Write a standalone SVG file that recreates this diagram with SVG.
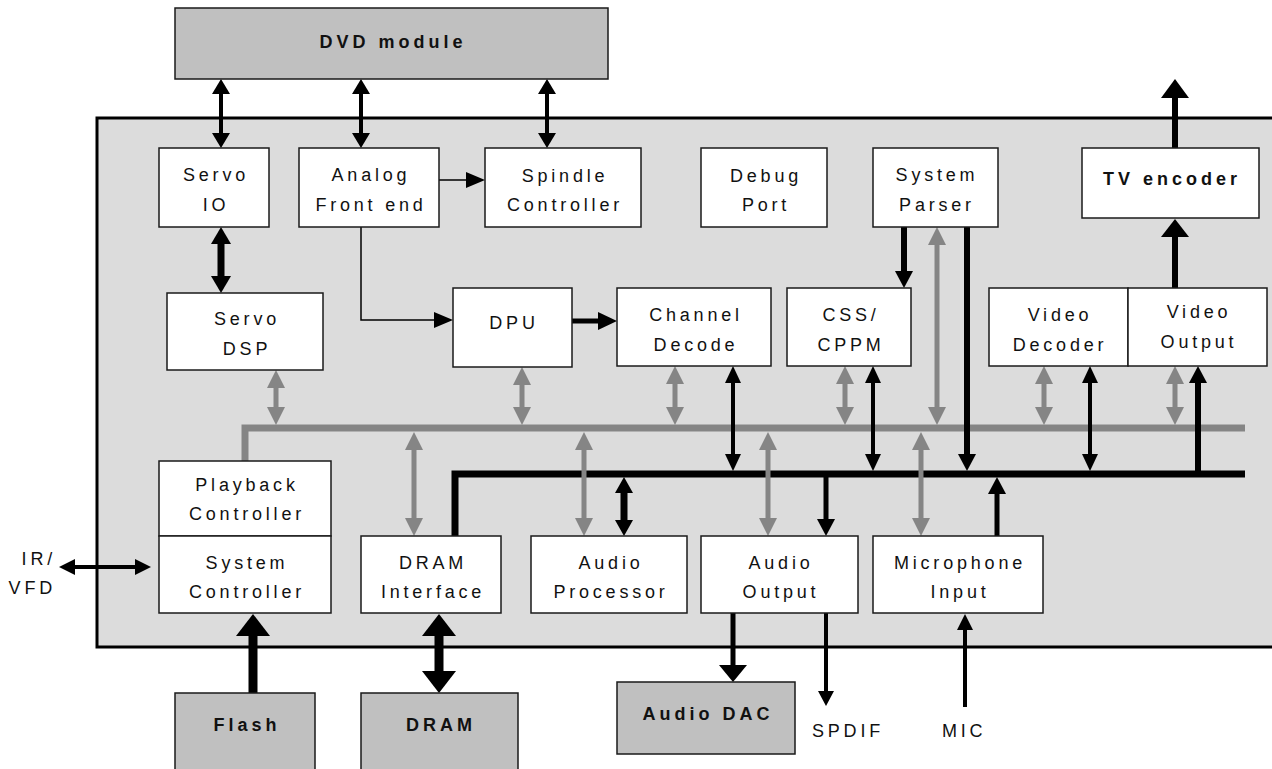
<svg xmlns="http://www.w3.org/2000/svg" width="1272" height="769" viewBox="0 0 1272 769">
<style>
.bx{fill:#fff;stroke:#1a1a1a;stroke-width:1.5}
.ext{fill:#c0c0c0;stroke:#1a1a1a;stroke-width:1.5}
.t{font-family:"Liberation Sans",Arial,sans-serif;font-size:18px;letter-spacing:3.8px;text-anchor:middle;fill:#111}
.b{font-weight:bold;letter-spacing:4px}
.k{stroke:#000;fill:none}
.g{stroke:#858585;fill:none}
.hk{fill:#000}
.hg{fill:#858585}
</style>
<rect x="0" y="0" width="1272" height="769" fill="#fff"/>
<rect id="chip" x="97" y="118" width="1180" height="529" fill="#dcdcdc" stroke="#000" stroke-width="3"/>

<g id="connectors">
  <!-- buses -->
  <path class="g" d="M245,461 V428 H1245" stroke-width="7"/>
  <path class="k" d="M455,536 V474 H1245" stroke-width="7"/>

  <!-- DVD module double arrows -->
  <g stroke-width="4" class="k">
    <line x1="221" y1="92" x2="221" y2="135"/>
    <line x1="361" y1="92" x2="361" y2="135"/>
    <line x1="547" y1="92" x2="547" y2="135"/>
  </g>
  <g class="hk">
    <polygon points="221,79 212,94 230,94"/><polygon points="221,148 212,133 230,133"/>
    <polygon points="361,79 352,94 370,94"/><polygon points="361,148 352,133 370,133"/>
    <polygon points="547,79 538,94 556,94"/><polygon points="547,148 538,133 556,133"/>
  </g>
  <!-- Servo IO <-> Servo DSP -->
  <line class="k" x1="221" y1="242" x2="221" y2="278" stroke-width="7"/>
  <polygon class="hk" points="221,227 211,244 231,244"/>
  <polygon class="hk" points="221,293 211,276 231,276"/>
  <!-- Analog -> Spindle -->
  <line class="k" x1="439" y1="180" x2="468" y2="180" stroke-width="1.5"/>
  <polygon class="hk" points="485,180 466,172 466,188"/>
  <!-- Analog -> DPU -->
  <path class="k" d="M361,227 V320 H436" stroke-width="1.5"/>
  <polygon class="hk" points="453,320 434,312 434,328"/>
  <!-- DPU -> Channel -->
  <line class="k" x1="572" y1="321" x2="600" y2="321" stroke-width="5"/>
  <polygon class="hk" points="617,321 598,312 598,330"/>

  <!-- gray double arrows above bus -->
  <g class="g" stroke-width="5">
    <line x1="276" y1="386" x2="276" y2="409"/>
    <line x1="522" y1="383" x2="522" y2="409"/>
    <line x1="675" y1="382" x2="675" y2="409"/>
    <line x1="845" y1="382" x2="845" y2="409"/>
    <line x1="937" y1="243" x2="937" y2="409"/>
    <line x1="1044" y1="382" x2="1044" y2="409"/>
    <line x1="1175" y1="382" x2="1175" y2="409"/>
    <line x1="414" y1="448" x2="414" y2="520"/>
    <line x1="584" y1="448" x2="584" y2="520"/>
    <line x1="768" y1="448" x2="768" y2="520"/>
    <line x1="921" y1="448" x2="921" y2="520"/>
  </g>
  <g class="hg">
    <polygon points="276,370 267,388 285,388"/><polygon points="276,425 267,407 285,407"/>
    <polygon points="522,367 513,385 531,385"/><polygon points="522,425 513,407 531,407"/>
    <polygon points="675,366 666,384 684,384"/><polygon points="675,425 666,407 684,407"/>
    <polygon points="845,366 836,384 854,384"/><polygon points="845,425 836,407 854,407"/>
    <polygon points="937,227 928,245 946,245"/><polygon points="937,425 928,407 946,407"/>
    <polygon points="1044,366 1035,384 1053,384"/><polygon points="1044,425 1035,407 1053,407"/>
    <polygon points="1175,366 1166,384 1184,384"/><polygon points="1175,425 1166,407 1184,407"/>
    <polygon points="414,432 405,450 423,450"/><polygon points="414,536 405,518 423,518"/>
    <polygon points="584,432 575,450 593,450"/><polygon points="584,536 575,518 593,518"/>
    <polygon points="768,432 759,450 777,450"/><polygon points="768,536 759,518 777,518"/>
    <polygon points="921,432 912,450 930,450"/><polygon points="921,536 912,518 930,518"/>
  </g>

  <!-- black double arrows to black bus -->
  <g class="k" stroke-width="4">
    <line x1="733" y1="381" x2="733" y2="456"/>
    <line x1="873" y1="381" x2="873" y2="456"/>
    <line x1="1090" y1="381" x2="1090" y2="456"/>
  </g>
  <line class="k" x1="624" y1="491" x2="624" y2="522" stroke-width="7"/>
  <g class="hk">
    <polygon points="733,366 725,383 741,383"/><polygon points="733,471 725,454 741,454"/>
    <polygon points="873,366 865,383 881,383"/><polygon points="873,471 865,454 881,454"/>
    <polygon points="1090,366 1082,383 1098,383"/><polygon points="1090,471 1082,454 1098,454"/>
    <polygon points="624,477 615,493 633,493"/><polygon points="624,536 615,520 633,520"/>
  </g>
  <!-- single black arrows -->
  <g class="k" stroke-width="6">
    <line x1="904" y1="227" x2="904" y2="272"/>
    <line x1="967" y1="227" x2="967" y2="456"/>
    <line x1="1198" y1="474" x2="1198" y2="382"/>
    <line x1="1175" y1="288" x2="1175" y2="235"/>
    <line x1="1175" y1="148" x2="1175" y2="96"/>
  </g>
  <g class="k" stroke-width="5">
    <line x1="826" y1="474" x2="826" y2="521"/>
    <line x1="997" y1="536" x2="997" y2="492"/>
    <line x1="733" y1="613" x2="733" y2="666"/>
  </g>
  <g class="hk">
    <polygon points="904,288 895,271 913,271"/>
    <polygon points="967,471 958,454 976,454"/>
    <polygon points="1198,366 1189,383 1207,383"/>
    <polygon points="1175,219 1161,237 1189,237"/>
    <polygon points="1175,79 1161,98 1189,98"/>
    <polygon points="826,536 817,519 835,519"/>
    <polygon points="997,477 988,494 1006,494"/>
    <polygon points="733,682 719,665 747,665"/>
  </g>
  <!-- Flash, DRAM -->
  <g class="k" stroke-width="9">
    <line x1="253" y1="693" x2="253" y2="634"/>
    <line x1="439" y1="634" x2="439" y2="673"/>
  </g>
  <g class="hk">
    <polygon points="253,614 236,636 270,636"/>
    <polygon points="439,614 422,636 456,636"/>
    <polygon points="439,693 422,671 456,671"/>
  </g>
  <!-- SPDIF, MIC, IR/VFD -->
  <g class="k" stroke-width="4">
    <line x1="826" y1="613" x2="826" y2="693"/>
    <line x1="965" y1="707" x2="965" y2="628"/>
    <line x1="73" y1="567" x2="137" y2="567"/>
  </g>
  <g class="hk">
    <polygon points="826,706 818,691 834,691"/>
    <polygon points="965,614 957,630 973,630"/>
    <polygon points="59,567 75,559 75,575"/>
    <polygon points="151,567 135,559 135,575"/>
  </g>
</g>

<g id="dvd"><rect class="ext" x="175" y="8" width="433" height="71"/><text class="t b" x="393" y="48">DVD module</text></g>
<g id="servo-io"><rect class="bx" x="159" y="148" width="110" height="79"/><text class="t" x="216" y="181">Servo</text><text class="t" x="216" y="211">IO</text></g>
<g id="afe"><rect class="bx" x="299" y="148" width="140" height="79"/><text class="t" x="371" y="181">Analog</text><text class="t" x="371" y="211">Front end</text></g>
<g id="spindle"><rect class="bx" x="485" y="148" width="156" height="79"/><text class="t" x="565" y="182">Spindle</text><text class="t" x="565" y="211">Controller</text></g>
<g id="debug"><rect class="bx" x="701" y="148" width="126" height="79"/><text class="t" x="766" y="182">Debug</text><text class="t" x="766" y="211">Port</text></g>
<g id="parser"><rect class="bx" x="873" y="148" width="125" height="79"/><text class="t" x="937" y="181">System</text><text class="t" x="937" y="211">Parser</text></g>
<g id="tvenc"><rect class="bx" x="1082" y="148" width="177" height="70"/><text class="t b" x="1172" y="185">TV encoder</text></g>
<g id="servo-dsp"><rect class="bx" x="167" y="293" width="156" height="77"/><text class="t" x="247" y="325">Servo</text><text class="t" x="247" y="355">DSP</text></g>
<g id="dpu"><rect class="bx" x="453" y="288" width="119" height="79"/><text class="t" x="514" y="329">DPU</text></g>
<g id="channel"><rect class="bx" x="617" y="288" width="154" height="78"/><text class="t" x="696" y="321">Channel</text><text class="t" x="696" y="351">Decode</text></g>
<g id="css"><rect class="bx" x="787" y="288" width="124" height="78"/><text class="t" x="851" y="321">CSS/</text><text class="t" x="851" y="351">CPPM</text></g>
<g id="vdec"><rect class="bx" x="989" y="288" width="139" height="78"/><text class="t" x="1060" y="321">Video</text><text class="t" x="1060" y="351">Decoder</text></g>
<g id="vout"><rect class="bx" x="1128" y="288" width="139" height="78"/><text class="t" x="1199" y="318">Video</text><text class="t" x="1199" y="348">Output</text></g>
<g id="playback"><rect class="bx" x="159" y="461" width="172" height="75"/><text class="t" x="247" y="491">Playback</text><text class="t" x="247" y="520">Controller</text></g>
<g id="sysctl"><rect class="bx" x="159" y="536" width="172" height="77"/><text class="t" x="247" y="569">System</text><text class="t" x="247" y="598">Controller</text></g>
<g id="dramif"><rect class="bx" x="361" y="536" width="140" height="77"/><text class="t" x="433" y="569">DRAM</text><text class="t" x="433" y="598">Interface</text></g>
<g id="aproc"><rect class="bx" x="531" y="536" width="156" height="77"/><text class="t" x="611" y="569">Audio</text><text class="t" x="611" y="598">Processor</text></g>
<g id="aout"><rect class="bx" x="701" y="536" width="157" height="77"/><text class="t" x="781" y="569">Audio</text><text class="t" x="781" y="598">Output</text></g>
<g id="mic-in"><rect class="bx" x="873" y="536" width="170" height="77"/><text class="t" x="960" y="569">Microphone</text><text class="t" x="960" y="598">Input</text></g>
<g id="flash"><rect class="ext" x="175" y="693" width="140" height="90"/><text class="t b" x="247" y="731">Flash</text></g>
<g id="dram"><rect class="ext" x="361" y="693" width="157" height="90"/><text class="t b" x="441" y="731">DRAM</text></g>
<g id="adac"><rect class="ext" x="617" y="682" width="178" height="72"/><text class="t b" x="708" y="720">Audio DAC</text></g>
<g id="labels">
  <text class="t" x="56" y="565" style="text-anchor:end">IR/</text>
  <text class="t" x="56" y="594" style="text-anchor:end">VFD</text>
  <text class="t" x="812" y="737" style="text-anchor:start">SPDIF</text>
  <text class="t" x="942" y="737" style="text-anchor:start">MIC</text>
</g>
</svg>
